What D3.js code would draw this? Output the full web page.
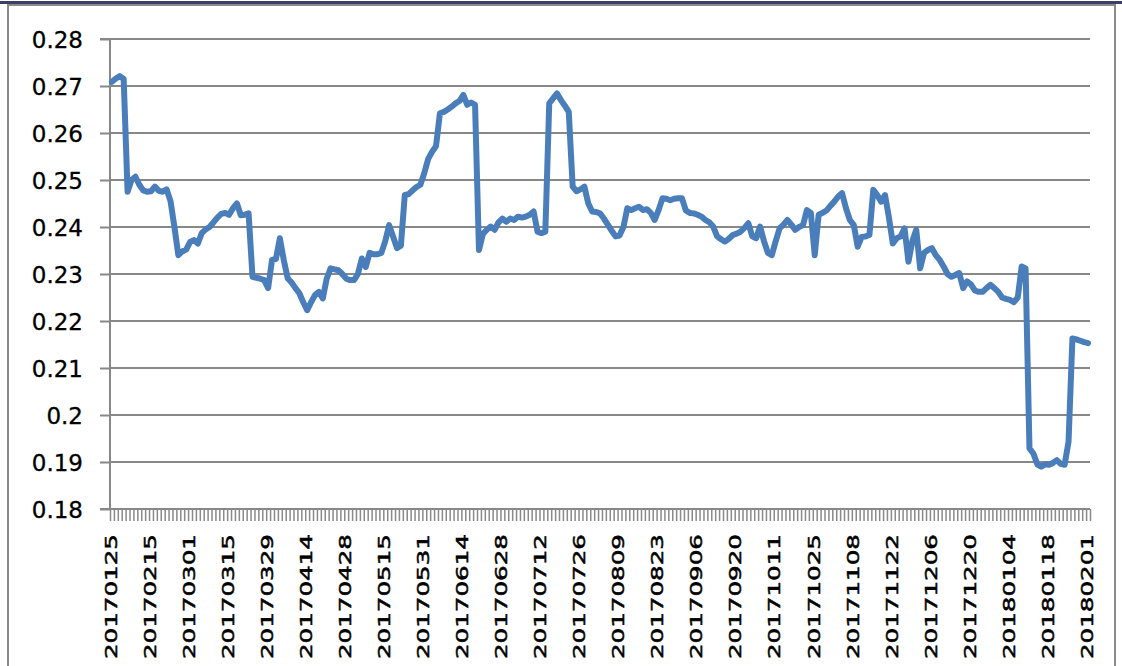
<!DOCTYPE html>
<html>
<head>
<meta charset="utf-8">
<script src="https://cdn.jsdelivr.net/npm/d3@7"></script>
<style>
  html, body { margin: 0; padding: 0; background: #fff; }
  svg { display: block; }
</style>
</head>
<body>
<svg id="chart" width="1122" height="666"></svg>
<script>
// Tick labels (every 10th trading day)
const tickLabels = ["20170125","20170215","20170301","20170315","20170329","20170414","20170428",
  "20170515","20170531","20170614","20170628","20170712","20170726","20170809","20170823",
  "20170906","20170920","20171011","20171025","20171108","20171122","20171206","20171220",
  "20180104","20180118","20180201"];
const labelStep = 10;

// Daily series values (251 trading days)
const values = [
  0.2709,0.2716,0.2721,0.2715,0.2475,0.2500,0.2507,0.2490,0.2478,0.2475,
  0.2476,0.2486,0.2477,0.2475,0.2480,0.2455,0.2400,0.2340,0.2348,0.2352,
  0.2368,0.2372,0.2365,0.2387,0.2395,0.2400,0.2410,0.2420,0.2428,0.2430,
  0.2426,0.2440,0.2450,0.2425,0.2426,0.2429,0.2294,0.2292,0.2290,0.2287,
  0.2270,0.2330,0.2332,0.2376,0.2330,0.2291,0.2282,0.2270,0.2259,0.2240,
  0.2223,0.2240,0.2255,0.2262,0.2248,0.2290,0.2312,0.2310,0.2308,0.2300,
  0.2290,0.2287,0.2287,0.2300,0.2333,0.2315,0.2345,0.2342,0.2342,0.2345,
  0.2370,0.2404,0.2380,0.2355,0.2360,0.2468,0.2470,0.2478,0.2485,0.2490,
  0.2515,0.2545,0.2560,0.2572,0.2642,0.2645,0.2650,0.2656,0.2663,0.2668,
  0.2681,0.2660,0.2665,0.2660,0.2351,0.2385,0.2394,0.2401,0.2394,0.2410,
  0.2418,0.2411,0.2418,0.2415,0.2422,0.2420,0.2422,0.2426,0.2433,0.2390,
  0.2387,0.2390,0.2663,0.2674,0.2684,0.2670,0.2658,0.2645,0.2486,0.2476,
  0.2480,0.2486,0.2450,0.2433,0.2432,0.2429,0.2418,0.2405,0.2392,0.2380,
  0.2382,0.2400,0.2440,0.2436,0.2440,0.2443,0.2436,0.2438,0.2430,0.2415,
  0.2436,0.2461,0.2460,0.2457,0.2460,0.2461,0.2461,0.2435,0.2430,0.2429,
  0.2426,0.2422,0.2415,0.2410,0.2401,0.2380,0.2374,0.2369,0.2375,0.2383,
  0.2386,0.2390,0.2398,0.2408,0.2380,0.2376,0.2401,0.2370,0.2345,0.2340,
  0.2370,0.2397,0.2405,0.2415,0.2405,0.2394,0.2400,0.2404,0.2436,0.2430,
  0.2340,0.2426,0.2430,0.2435,0.2445,0.2454,0.2465,0.2472,0.2440,0.2415,
  0.2404,0.2358,0.2379,0.2380,0.2383,0.2479,0.2468,0.2454,0.2468,0.2420,
  0.2365,0.2376,0.2380,0.2397,0.2326,0.2370,0.2394,0.2312,0.2345,0.2351,
  0.2355,0.2340,0.2330,0.2316,0.2300,0.2294,0.2298,0.2302,0.2270,0.2284,
  0.2278,0.2265,0.2262,0.2262,0.2270,0.2277,0.2270,0.2262,0.2250,0.2247,
  0.2245,0.2240,0.2250,0.2316,0.2312,0.1929,0.1918,0.1895,0.1890,0.1895,
  0.1894,0.1898,0.1904,0.1896,0.1894,0.1943,0.2163,0.2161,0.2158,0.2155,
  0.2153
];

// Y axis ticks
const yTicks = [0.18,0.19,0.2,0.21,0.22,0.23,0.24,0.25,0.26,0.27,0.28];
const yTickLabels = ["0.18","0.19","0.2","0.21","0.22","0.23","0.24","0.25","0.26","0.27","0.28"];

const svg = d3.select("#chart");
const W = 1122, H = 666;
const plot = {left: 110, right: 1090, top: 39, bottom: 509};

// Frame
svg.append("rect").attr("x", 0).attr("y", 0).attr("width", W).attr("height", H).attr("fill", "#fff");
svg.append("rect").attr("x", 8).attr("y", 5).attr("width", 1107).attr("height", 700)
  .attr("fill", "none").attr("stroke", "#8a8a8a").attr("stroke-width", 2);
svg.append("rect").attr("x", 0).attr("y", 1).attr("width", W).attr("height", 3).attr("fill", "#3b3f66");

const n = values.length;
const x = d3.scaleLinear().domain([0, n]).range([plot.left, plot.right]);
const y = d3.scaleLinear().domain([0.18, 0.28]).range([plot.bottom, plot.top]);

// Gridlines
svg.append("g").selectAll("line").data(yTicks.slice(1)).join("line")
  .attr("x1", plot.left).attr("x2", plot.right)
  .attr("y1", d => y(d)).attr("y2", d => y(d))
  .attr("stroke", "#888").attr("stroke-width", 2);

// Y axis
const yAxis = d3.axisLeft(y).tickValues(yTicks).tickSize(10).tickFormat((d, i) => yTickLabels[i]);
const gy = svg.append("g").attr("transform", `translate(${plot.left},0)`).call(yAxis);
gy.select(".domain").attr("stroke", "#888").attr("stroke-width", 2).attr("d", `M-10,${plot.top}H0V${plot.bottom}H-10`);
gy.selectAll(".tick line").attr("stroke", "#888").attr("stroke-width", 2);
gy.selectAll(".tick text").attr("x", -27).attr("dy", "0.36em")
  .attr("font-family", "DejaVu Sans").attr("font-size", 23).attr("fill", "#000")
  .attr("stroke", "#000").attr("stroke-width", 0.3);

// X axis: tick marks between categories
const xTickVals = d3.range(0, n + 1);
const xAxis = d3.axisBottom(x).tickValues(xTickVals).tickSize(12).tickFormat("");
const gx = svg.append("g").attr("transform", `translate(0,${plot.bottom})`).call(xAxis);
gx.select(".domain").attr("stroke", "#888").attr("stroke-width", 2).attr("d", `M${plot.left},0H${plot.right}`);
gx.selectAll(".tick line").attr("stroke", "#8a8a8a").attr("stroke-width", 1.5);

// X labels (rotated)
svg.append("g").selectAll("text").data(tickLabels).join("text")
  .attr("transform", (d, i) => `translate(${x(i * labelStep + 0.5) - 1},659) rotate(-90)`)
  .attr("text-anchor", "start")
  .attr("dy", "0.36em")
  .attr("font-family", "DejaVu Sans").attr("font-size", 16)
  .attr("textLength", 125).attr("lengthAdjust", "spacingAndGlyphs")
  .attr("fill", "#000").attr("stroke", "#000").attr("stroke-width", 0.5)
  .text(d => d);

// Line
const line = d3.line().x((d, i) => x(i + 0.5)).y(d => y(d));
svg.append("path").datum(values)
  .attr("d", line)
  .attr("fill", "none")
  .attr("stroke", "#4a7ebb")
  .attr("stroke-width", 6)
  .attr("stroke-linejoin", "round")
  .attr("stroke-linecap", "round");
</script>
</body>
</html>
